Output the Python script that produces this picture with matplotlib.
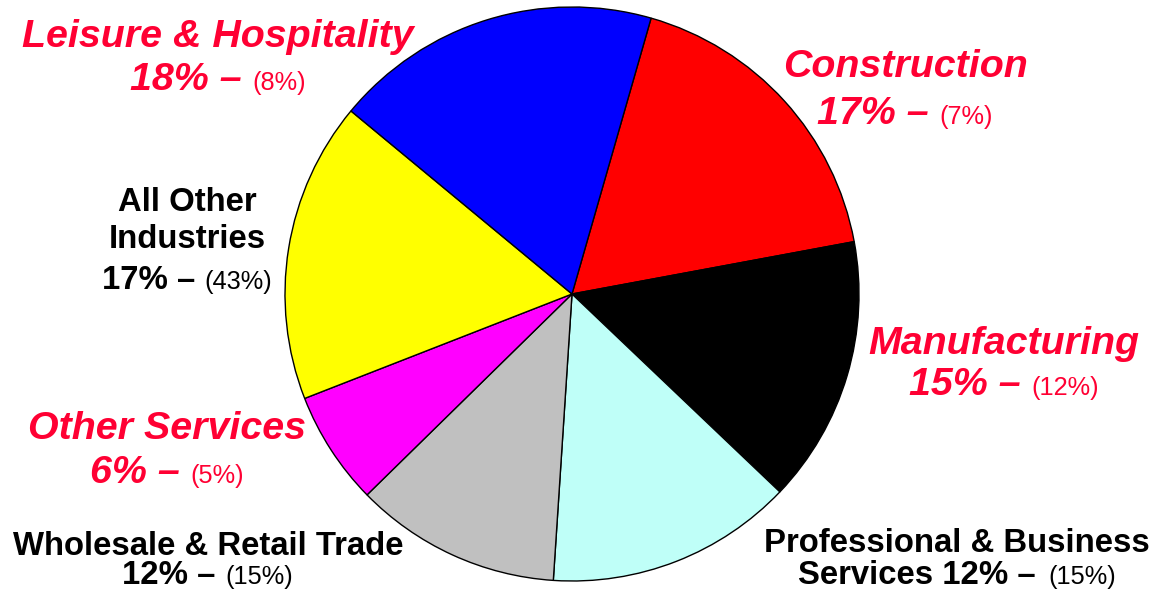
import matplotlib
matplotlib.use("Agg")
import matplotlib.pyplot as plt

# ---- data ----
categories = ["Construction", "Manufacturing", "Professional & Business Services",
              "Wholesale & Retail Trade", "Other Services", "All Other Industries",
              "Leisure & Hospitality"]
slice_shares = [17.6, 15.0, 13.9, 11.6, 6.4, 16.9, 18.4]
label_pct = ["17%", "15%", "12%", "12%", "6%", "17%", "18%"]
paren_pct = ["(7%)", "(12%)", "(15%)", "(15%)", "(5%)", "(43%)", "(8%)"]
slice_colors = ["#FF0000", "#000000", "#BFFFF8", "#C0C0C0", "#FF00FF", "#FFFF00", "#0000FF"]
highlight = [True, True, False, False, True, False, True]

W, H = 1155, 590
plt.rcParams['font.family'] = ['Liberation Sans', 'DejaVu Sans']
fig = plt.figure(figsize=(W / 100, H / 100), dpi=100)

# pie axes: center (572,294) px, radius 287 px
cx, cy, R = 572, 294, 287
ax = fig.add_axes([(cx - R) / W, 1 - (cy + R) / H, 2 * R / W, 2 * R / H])
ax.pie(slice_shares, colors=slice_colors, startangle=74, counterclock=False,
       radius=1, wedgeprops=dict(edgecolor="black", linewidth=1.0))
ax.set_xlim(-1.0, 1.0)
ax.set_ylim(-1.0, 1.0)
ax.set_aspect("equal")
ax.axis("off")

RED = "#FF0033"
renderer = fig.canvas.get_renderer()


def fx(px):
    return px / W


def fy(py):
    return 1 - py / H


def title_line(xc, yb, text, hl):
    fig.text(fx(xc), fy(yb), text, ha="center", va="baseline",
             fontsize=28.4 if hl else 23.7, fontweight="bold",
             style="italic" if hl else "normal", color=RED if hl else "black")


def pct_line(xc, yb, bold_text, paren, hl, gap=10):
    color = RED if hl else "black"
    t1 = fig.text(0, fy(yb), bold_text, ha="left", va="baseline",
                  fontsize=28.4 if hl else 23.7, fontweight="bold",
                  style="italic" if hl else "normal", color=color)
    t2 = fig.text(0, fy(yb), paren, ha="left", va="baseline",
                  fontsize=18.3, fontweight="normal", color=color)
    w1 = t1.get_window_extent(renderer).width
    w2 = t2.get_window_extent(renderer).width
    total = w1 + gap + w2
    x0 = xc - total / 2
    t1.set_x(fx(x0))
    t2.set_x(fx(x0 + w1 + gap))


# Leisure & Hospitality
title_line(218, 47, categories[6], highlight[6])
pct_line(218, 90, label_pct[6] + " \u2013", paren_pct[6], highlight[6])
# Construction
title_line(905, 77, categories[0], highlight[0])
pct_line(905, 124, label_pct[0] + " \u2013", paren_pct[0], highlight[0])
# Manufacturing
title_line(1004, 354, categories[1], highlight[1])
pct_line(1004, 395, label_pct[1] + " \u2013", paren_pct[1], highlight[1])
# All Other Industries
title_line(187, 211, "All Other", highlight[5])
title_line(187, 248, "Industries", highlight[5])
pct_line(187, 289, label_pct[5] + " \u2013", paren_pct[5], highlight[5])
# Other Services
title_line(167, 439, categories[4], highlight[4])
pct_line(167, 483, label_pct[4] + " \u2013", paren_pct[4], highlight[4])
# Wholesale & Retail Trade
title_line(208, 555, categories[3], highlight[3])
pct_line(208, 584, label_pct[3] + " \u2013", paren_pct[3], highlight[3])
# Professional & Business Services
title_line(957, 552, "Professional & Business", highlight[2])
pct_line(957, 584, "Services " + label_pct[2] + " \u2013", paren_pct[2], highlight[2], gap=12)

fig.savefig("out.png", dpi=100)
